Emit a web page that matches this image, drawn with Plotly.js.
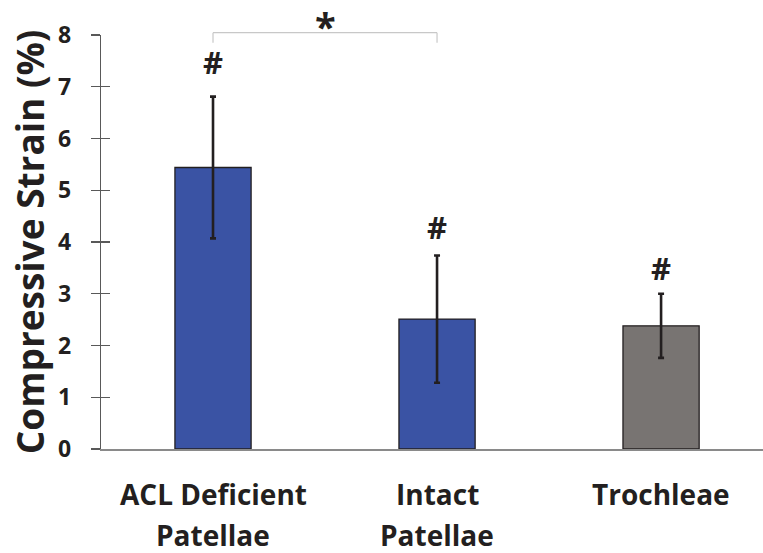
<!DOCTYPE html>
<html><head><meta charset="utf-8">
<script src="https://cdn.plot.ly/plotly-3.0.1.min.js"></script>
<style>html,body{margin:0;padding:0;background:#fff}#chart{width:763px;height:553px}</style>
</head><body><div id="chart"></div>
<script>
const categories = ["ACL Deficient Patellae", "Intact Patellae", "Trochleae"];
const labelLines = [["ACL Deficient", "Patellae"], ["Intact", "Patellae"], ["Trochleae"]];
const strain = [5.44, 2.51, 2.38];
const strainSD = [1.37, 1.23, 0.62];
const barColors = ["#3A53A4", "#3A53A4", "#787472"];
const sigMarks = ["#", "#", "#"];
const yTicks = [0, 1, 2, 3, 4, 5, 6, 7, 8];

const FONT = "'Open Sans', 'DejaVu Sans', sans-serif";
const INK = "#231f20";

const trace = {
  type: "bar",
  x: categories,
  y: strain,
  width: 0.34,
  marker: { color: barColors, line: { color: INK, width: 1.3 } },
  error_y: { type: "data", array: strainSD, visible: true, color: INK, thickness: 2.6, width: 3 },
  hoverinfo: "skip"
};
const ghost = {
  type: "scatter", mode: "markers", x: categories, y: strain, yaxis: "y2",
  marker: { opacity: 0 }, hoverinfo: "skip", showlegend: false
};

const annotations = [];
const markY = [7.48, 4.29, 3.50];
sigMarks.forEach((m, i) => {
  annotations.push({
    x: categories[i], y: markY[i], xref: "x", yref: "y", text: m,
    showarrow: false, yanchor: "middle", font: { family: FONT, size: 31, weight: "bold", color: INK }
  });
});
annotations.push({
  x: 0.5, y: 1.022, xref: "x", yref: "paper", text: "*", showarrow: false,
  yanchor: "middle", font: { family: FONT, size: 38, weight: "bold", color: INK }
});
const lineY = [-0.1087, -0.2077];
labelLines.forEach((lines, i) => {
  lines.forEach((t, j) => {
    annotations.push({
      x: categories[i], y: lineY[j], xref: "x", yref: "paper", text: t,
      showarrow: false, yanchor: "middle", font: { family: FONT, size: 28, weight: "bold", color: INK }
    });
  });
});

const bracketColor = "#c8c8c8";
const shapes = [
  { type: "line", xref: "x", yref: "paper", x0: 0, x1: 1, y0: 1.0056, y1: 1.0056, line: { color: bracketColor, width: 1.2 } },
  { type: "line", xref: "x", yref: "paper", x0: 0, x1: 0, y0: 1.0056, y1: 0.981, line: { color: bracketColor, width: 1.2 } },
  { type: "line", xref: "x", yref: "paper", x0: 1, x1: 1, y0: 1.0056, y1: 0.981, line: { color: bracketColor, width: 1.2 } }
];

const layout = {
  width: 763, height: 553,
  margin: { l: 101, r: 0, t: 35, b: 104 },
  paper_bgcolor: "#fff", plot_bgcolor: "#fff",
  showlegend: false,
  font: { family: FONT, color: INK },
  xaxis: {
    type: "category", range: [-0.5, 2.455], showticklabels: false, ticks: "",
    showline: true, linecolor: "#8a8a8a", linewidth: 1.5, showgrid: false, zeroline: false, fixedrange: true
  },
  yaxis: {
    range: [0, 8], tickvals: yTicks, ticks: "outside", ticklen: 9, tickwidth: 1.2, tickcolor: "#595959",
    showline: true, linecolor: "#595959", linewidth: 1.2, showgrid: false, zeroline: false,
    tickfont: { family: FONT, size: 23, weight: "bold", color: INK }, ticklabelstandoff: 15,
    title: { text: "Compressive Strain (%)", font: { family: FONT, size: 37, weight: "bold", color: INK }, standoff: 2 },
    fixedrange: true
  },
  yaxis2: {
    overlaying: "y", side: "left", range: [0, 8], tickvals: yTicks, ticks: "inside", ticklen: 9,
    tickwidth: 1.2, tickcolor: "#595959", showticklabels: false, showline: false, showgrid: false,
    zeroline: false, fixedrange: true
  },
  annotations: annotations,
  shapes: shapes
};

Plotly.newPlot("chart", [trace, ghost], layout, { displayModeBar: false, staticPlot: true });
</script>
</body></html>
